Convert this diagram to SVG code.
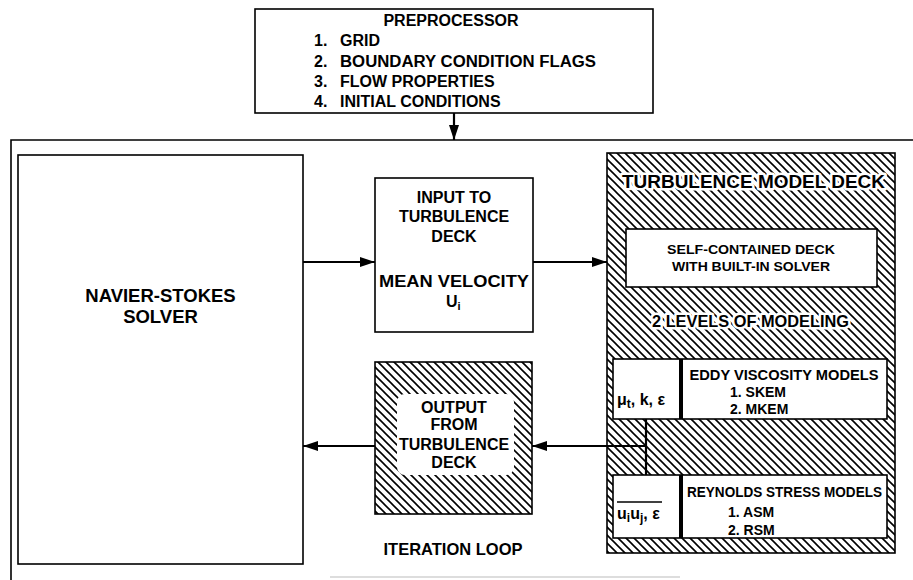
<svg xmlns="http://www.w3.org/2000/svg" width="913" height="580" viewBox="0 0 913 580">
<style>
  text { font-family: "Liberation Sans", Arial, Helvetica, sans-serif; font-weight: bold; fill: #000; }
  .box { fill: #fff; stroke: #000; stroke-width: 1.6; }
  .hatch { fill: url(#hatch); stroke: #000; stroke-width: 1.6; }
  .conn { fill: none; stroke: #000; stroke-width: 2.2; }
  .halo { stroke: #fff; stroke-width: 5; paint-order: stroke; stroke-linejoin: round; }
  .c { text-anchor: middle; }
</style>
<defs>
  <pattern id="hatch" patternUnits="userSpaceOnUse" width="8" height="8">
    <rect width="8" height="8" fill="#fff"/>
    <path d="M-2,-2 L10,10 M-2,6 L2,10 M6,-2 L10,2" stroke="#000" stroke-width="1.6"/>
  </pattern>
  <marker id="arr" markerUnits="userSpaceOnUse" markerWidth="16" markerHeight="12" refX="15" refY="5" orient="auto">
    <path d="M0,0 L15,5 L0,10 z" fill="#000"/>
  </marker>
</defs>

<!-- outer frame -->
<g id="frame">
  <path d="M11,580 L11,140 L913,140" fill="none" stroke="#000" stroke-width="1.6"/>
  <line x1="330" y1="577" x2="680" y2="577" stroke="#bbb" stroke-width="1.2"/>
</g>

<g id="preprocessor">
  <rect class="box" x="255" y="9" width="398" height="104"/>
  <text class="c" x="451" y="26" font-size="16">PREPROCESSOR</text>
  <text x="314" y="46" font-size="16">1.</text><text x="340" y="46" font-size="16">GRID</text>
  <text x="314" y="67" font-size="16">2.</text><text x="340" y="67" font-size="16" textLength="256" lengthAdjust="spacingAndGlyphs">BOUNDARY CONDITION FLAGS</text>
  <text x="314" y="87" font-size="16">3.</text><text x="340" y="87" font-size="16">FLOW PROPERTIES</text>
  <text x="314" y="107" font-size="16">4.</text><text x="340" y="107" font-size="16">INITIAL CONDITIONS</text>
</g>

<g id="navier-stokes">
  <rect class="box" x="18" y="155" width="285" height="409"/>
  <text class="c" x="160.5" y="302" font-size="18.5">NAVIER-STOKES</text>
  <text class="c" x="160.5" y="323" font-size="18.5">SOLVER</text>
</g>

<g id="input-deck">
  <rect class="box" x="375" y="178" width="158" height="154"/>
  <text class="c" x="454" y="203" font-size="16">INPUT TO</text>
  <text class="c" x="454" y="222" font-size="16">TURBULENCE</text>
  <text class="c" x="454" y="242" font-size="16">DECK</text>
  <text class="c" x="454" y="287" font-size="16" textLength="150" lengthAdjust="spacingAndGlyphs">MEAN VELOCITY</text>
  <text x="446" y="307" font-size="16">U<tspan font-size="11" dy="3">i</tspan></text>
</g>

<g id="output-deck">
  <rect class="hatch" x="375" y="362" width="157" height="152"/>
  <rect x="397" y="394" width="117" height="81" rx="8" fill="#fff"/>
  <text class="c" x="454" y="413" font-size="16">OUTPUT</text>
  <text class="c" x="454" y="430" font-size="16">FROM</text>
  <text class="c" x="454" y="450" font-size="16">TURBULENCE</text>
  <text class="c" x="454" y="468" font-size="16">DECK</text>
</g>

<g id="iteration-loop">
  <text class="c" x="453" y="555" font-size="16.5">ITERATION LOOP</text>
</g>

<g id="turbulence-deck">
  <rect class="hatch" x="607" y="153" width="288" height="400"/>
  <text class="halo" x="622" y="188" font-size="18.5" textLength="263" lengthAdjust="spacingAndGlyphs">TURBULENCE MODEL DECK</text>
  <text class="halo" x="652" y="327" font-size="16.5" textLength="197" lengthAdjust="spacingAndGlyphs">2 LEVELS OF MODELING</text>
</g>

<g id="self-contained">
  <rect class="box" x="626" y="229" width="251" height="58"/>
  <text class="c" x="751" y="254" font-size="13.5" textLength="168" lengthAdjust="spacingAndGlyphs">SELF-CONTAINED DECK</text>
  <text class="c" x="751" y="271" font-size="13.5" textLength="158" lengthAdjust="spacingAndGlyphs">WITH BUILT-IN SOLVER</text>
</g>

<g id="eddy-viscosity">
  <rect class="box" x="613" y="359" width="274" height="60"/>
  <line x1="681" y1="359" x2="681" y2="419" stroke="#000" stroke-width="4"/>
  <text x="617" y="405" font-size="16">μ<tspan font-size="12" dy="3">t</tspan><tspan dy="-3">, k, ε</tspan></text>
  <text class="c" x="784" y="380" font-size="14.5" textLength="189" lengthAdjust="spacingAndGlyphs">EDDY VISCOSITY MODELS</text>
  <text x="730" y="397" font-size="14">1.  SKEM</text>
  <text x="730" y="414" font-size="14">2.  MKEM</text>
</g>

<g id="reynolds-stress">
  <rect class="box" x="613" y="475" width="274" height="63"/>
  <line x1="681" y1="475" x2="681" y2="538" stroke="#000" stroke-width="4"/>
  <line x1="617" y1="502" x2="662" y2="502" stroke="#000" stroke-width="1.5"/>
  <text x="617" y="519" font-size="16">u<tspan font-size="12" dy="3">i</tspan><tspan dy="-3">u</tspan><tspan font-size="12" dy="3">j</tspan><tspan dy="-3">, ε</tspan></text>
  <text class="c" x="784.5" y="497" font-size="14" textLength="195" lengthAdjust="spacingAndGlyphs">REYNOLDS STRESS MODELS</text>
  <text x="728" y="517" font-size="14">1.  ASM</text>
  <text x="728" y="535" font-size="14">2.  RSM</text>
</g>

<g id="connectors">
  <line class="conn" x1="454" y1="113" x2="454" y2="140" marker-end="url(#arr)"/>
  <line class="conn" x1="303" y1="262" x2="375" y2="262" marker-end="url(#arr)"/>
  <line class="conn" x1="533" y1="262" x2="607" y2="262" marker-end="url(#arr)"/>
  <line class="conn" x1="646" y1="419" x2="646" y2="475"/>
  <line class="conn" x1="646" y1="446" x2="532" y2="446" marker-end="url(#arr)"/>
  <line class="conn" x1="375" y1="446" x2="303" y2="446" marker-end="url(#arr)"/>
</g>
</svg>
